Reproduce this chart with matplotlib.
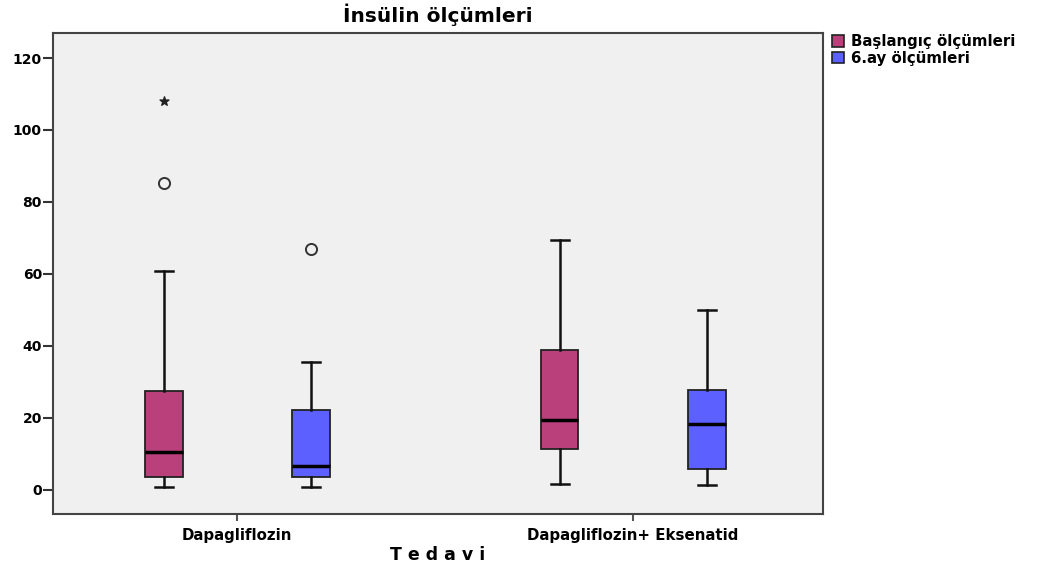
import matplotlib
matplotlib.use("Agg")
import matplotlib.pyplot as plt
from matplotlib.patches import Patch

plt.rcParams["font.family"] = ["DejaVu Sans"]

groups = ["Dapagliflozin", "Dapagliflozin+ Eksenatid"]
series = ["Başlangıç ölçümleri", "6.ay ölçümleri"]
colors = ["#B9407A", "#5C60FF"]

# five-number summaries per group: [Dapagliflozin, Dapagliflozin+ Eksenatid]
wlo = {"Başlangıç ölçümleri": [0.8, 1.5], "6.ay ölçümleri": [0.8, 1.3]}
q1 = {"Başlangıç ölçümleri": [3.7, 11.4], "6.ay ölçümleri": [3.7, 5.9]}
med = {"Başlangıç ölçümleri": [10.5, 19.3], "6.ay ölçümleri": [6.7, 18.4]}
q3 = {"Başlangıç ölçümleri": [27.6, 38.8], "6.ay ölçümleri": [22.3, 27.8]}
whi = {"Başlangıç ölçümleri": [60.8, 69.3], "6.ay ölçümleri": [35.6, 49.9]}
outliers = {"Başlangıç ölçümleri": [[85.3], []], "6.ay ölçümleri": [[67.0], []]}
extremes = {"Başlangıç ölçümleri": [[108.0], []], "6.ay ölçümleri": [[], []]}

yticks = [0, 20, 40, 60, 80, 100, 120]

fig = plt.figure(figsize=(10.46, 5.69), dpi=100)
ax = fig.add_axes([0.0507, 0.0967, 0.736, 0.845])
ax.set_facecolor("#F0F0F0")

offsets = [-0.185, 0.187]
for s, name in enumerate(series):
    stats = []
    for g in range(len(groups)):
        stats.append({"whislo": wlo[name][g], "q1": q1[name][g], "med": med[name][g],
                      "q3": q3[name][g], "whishi": whi[name][g], "fliers": outliers[name][g]})
    pos = [g + 1 + offsets[s] for g in range(len(groups))]
    ax.bxp(stats, positions=pos, widths=0.095, capwidths=0.045, patch_artist=True,
           boxprops=dict(facecolor=colors[s], edgecolor="#222222", linewidth=1.3),
           medianprops=dict(color="black", linewidth=2.5),
           whiskerprops=dict(color="#111111", linewidth=1.8),
           capprops=dict(color="#111111", linewidth=1.8),
           flierprops=dict(marker="o", markerfacecolor="none", markeredgecolor="#333333",
                           markersize=8, markeredgewidth=1.4))
    for g in range(len(groups)):
        ys = extremes[name][g]
        if ys:
            ax.scatter([pos[g]] * len(ys), ys, marker="*", s=45, color="#222222", zorder=3)

ax.set_xlim(0.535, 2.48)
ax.set_ylim(-6.7, 126.9)
ax.set_xticks([1, 2])
ax.set_xticklabels(groups, fontsize=10.8, fontweight="bold")
ax.set_yticks(yticks)
ax.set_yticklabels([str(v) for v in yticks], fontsize=10, fontweight="bold")
ax.tick_params(axis="y", length=7, width=1.5, color="#333333", pad=1)
ax.tick_params(axis="x", length=5, width=1.5, color="#555555", pad=5)
for sp in ax.spines.values():
    sp.set_color("#444444")
    sp.set_linewidth(1.5)

ax.set_title("İnsülin ölçümleri", fontsize=14.5, fontweight="bold", pad=8)
ax.set_xlabel("T e d a v i", fontsize=12.5, fontweight="bold", labelpad=2)

handles = [Patch(facecolor=c, edgecolor="#222222", linewidth=1.2) for c in colors]
fig.legend(handles, series, loc="upper left", bbox_to_anchor=(0.795, 0.94),
           frameon=False, prop={"weight": "bold", "size": 10.8},
           handlelength=0.8, handleheight=0.8, handletextpad=0.5, labelspacing=0.1,
           borderaxespad=0, borderpad=0)

fig.savefig("out.png", dpi=100)
